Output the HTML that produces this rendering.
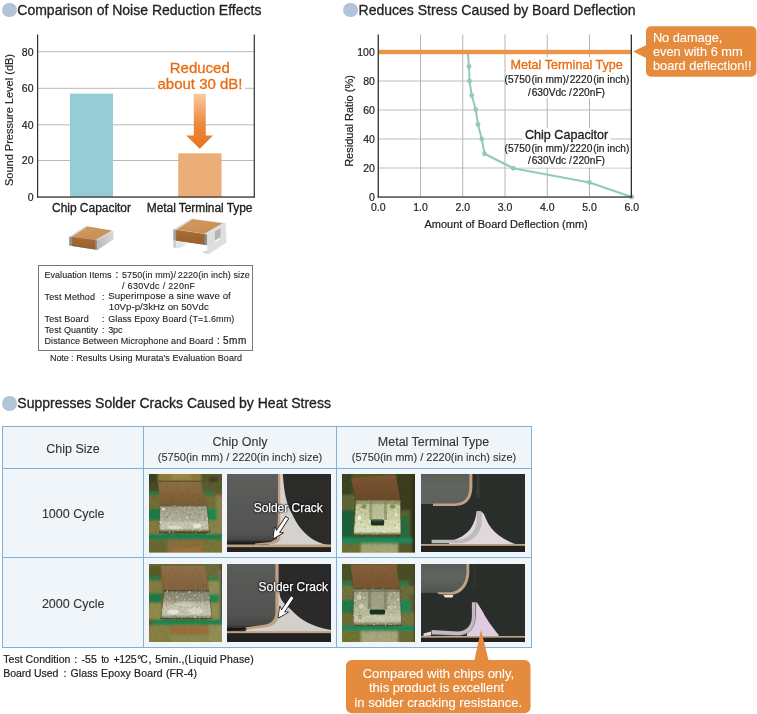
<!DOCTYPE html>
<html><head><meta charset="utf-8"><title>Metal terminal capacitor</title>
<style>
html,body{margin:0;padding:0;background:#fff;}
body{width:757px;height:714px;position:relative;overflow:hidden;font-family:"Liberation Sans", sans-serif;}
.abs{position:absolute;}
.t{position:absolute;white-space:nowrap;font-family:"Liberation Sans", sans-serif;}
.dot{position:absolute;width:14.5px;height:14.5px;border-radius:50%;background:#b1c4d8;}
.wb{background:#fff;}
#stage{position:absolute;left:0;top:0;width:757px;height:714px;will-change:transform;}
</style></head><body>
<div id="stage">
<div class="dot" style="left:2.15px;top:2.85px"></div>
<div class="dot" style="left:343.25px;top:2.85px"></div>
<div class="dot" style="left:2.15px;top:396.45px"></div>
<div class="t" style="left:17.3px;top:2px;font-size:14px;line-height:17px;color:#222;-webkit-text-stroke:0.3px;">Comparison of Noise Reduction Effects</div>
<div class="t" style="left:358.6px;top:2px;font-size:14px;line-height:17px;color:#222;-webkit-text-stroke:0.3px;">Reduces Stress Caused by Board Deflection</div>
<div class="t" style="left:17.3px;top:395px;font-size:14px;line-height:17px;color:#222;-webkit-text-stroke:0.3px;">Suppresses Solder Cracks Caused by Heat Stress</div>
<svg class="abs" style="left:0;top:0" width="380" height="260" viewBox="0 0 380 260"><defs><linearGradient id="ag" x1="0" y1="0" x2="0" y2="1"><stop offset="0" stop-color="#f8c9a2"/><stop offset="0.55" stop-color="#ec8a3e"/><stop offset="1" stop-color="#e8721c"/></linearGradient></defs><rect x="38" y="51.2" width="216" height="1" fill="#b9b9b9"/><rect x="38" y="87.8" width="216" height="1" fill="#b9b9b9"/><rect x="38" y="124.3" width="216" height="1" fill="#b9b9b9"/><rect x="38" y="160.0" width="216" height="1" fill="#b9b9b9"/><rect x="70" y="93.6" width="43" height="103.4" fill="#96ccd6"/><rect x="178.2" y="153.3" width="43.3" height="43.7" fill="#ecae78"/><rect x="155" y="80" width="90" height="12" fill="#fff"/><path d="M193.75 93.75 H205.75 V135.5 H213 L199.75 148.75 L186.25 135.5 H193.75 Z" fill="url(#ag)"/><rect x="37" y="34.5" width="1.2" height="163" fill="#352e2c"/><rect x="253.7" y="34.5" width="1.2" height="163" fill="#352e2c"/><rect x="37" y="196.4" width="217.9" height="1.3" fill="#352e2c"/></svg>
<div class="t" style="left:-366.5px;width:400px;text-align:right;top:46px;font-size:10.5px;line-height:13px;color:#222;-webkit-text-stroke:0.2px;">80</div>
<div class="t" style="left:-366.5px;width:400px;text-align:right;top:82px;font-size:10.5px;line-height:13px;color:#222;-webkit-text-stroke:0.2px;">60</div>
<div class="t" style="left:-366.5px;width:400px;text-align:right;top:119px;font-size:10.5px;line-height:13px;color:#222;-webkit-text-stroke:0.2px;">40</div>
<div class="t" style="left:-366.5px;width:400px;text-align:right;top:154px;font-size:10.5px;line-height:13px;color:#222;-webkit-text-stroke:0.2px;">20</div>
<div class="t" style="left:-366.5px;width:400px;text-align:right;top:191px;font-size:10.5px;line-height:13px;color:#222;-webkit-text-stroke:0.2px;">0</div>
<div class="t" style="left:-91.5px;top:112.75px;width:200px;text-align:center;font-size:11px;line-height:14px;transform:rotate(-90deg);transform-origin:center;color:#222;-webkit-text-stroke:0.2px">Sound Pressure Level (dB)</div>
<div class="t" style="left:-0.25px;width:400px;text-align:center;top:59px;font-size:15px;line-height:18px;color:#e86c10;-webkit-text-stroke:0.3px;">Reduced</div>
<div class="t" style="left:0px;width:400px;text-align:center;top:75px;font-size:15px;line-height:18px;color:#e86c10;-webkit-text-stroke:0.3px;">about 30 dB!</div>
<div class="t" style="left:52px;top:201px;font-size:12px;line-height:14px;color:#222;letter-spacing:-0.029px;-webkit-text-stroke:0.3px;">Chip Capacitor</div>
<div class="t" style="left:146.75px;top:201px;font-size:12px;line-height:14px;color:#222;letter-spacing:-0.067px;-webkit-text-stroke:0.3px;">Metal Terminal Type</div>
<div class="abs" style="left:38.2px;top:265px;width:212.6px;height:83.5px;border:1px solid #777;"></div>
<div class="t" style="left:44.5px;top:270px;font-size:9px;line-height:11px;color:#222;letter-spacing:0.030px;-webkit-text-stroke:0.1px;">Evaluation Items</div>
<div class="t" style="left:115.5px;top:269px;font-size:10px;line-height:12px;color:#222;-webkit-text-stroke:0.2px;">:</div>
<div class="t" style="left:122px;top:270px;font-size:9px;line-height:11px;color:#222;letter-spacing:0.080px;-webkit-text-stroke:0.1px;">5750(in mm)/&thinsp;2220(in inch) size</div>
<div class="t" style="left:122px;top:281px;font-size:9px;line-height:11px;color:#222;letter-spacing:0.297px;-webkit-text-stroke:0.1px;">/ 630Vdc / 220nF</div>
<div class="t" style="left:44.5px;top:292px;font-size:9px;line-height:11px;color:#222;letter-spacing:0.147px;-webkit-text-stroke:0.1px;">Test Method</div>
<div class="t" style="left:102px;top:292px;font-size:9px;line-height:11px;color:#222;-webkit-text-stroke:0.1px;">:</div>
<div class="t" style="left:108.25px;top:290px;font-size:9.7px;line-height:12px;color:#222;letter-spacing:0.032px;-webkit-text-stroke:0.1px;">Superimpose a sine wave of</div>
<div class="t" style="left:108.75px;top:301px;font-size:9.7px;line-height:12px;color:#222;letter-spacing:0.019px;-webkit-text-stroke:0.1px;">10Vp-p/3kHz on 50Vdc</div>
<div class="t" style="left:44.5px;top:314px;font-size:9px;line-height:11px;color:#222;letter-spacing:0.135px;-webkit-text-stroke:0.1px;">Test Board</div>
<div class="t" style="left:102px;top:314px;font-size:9px;line-height:11px;color:#222;-webkit-text-stroke:0.1px;">:</div>
<div class="t" style="left:108.25px;top:314px;font-size:9px;line-height:11px;color:#222;letter-spacing:0.085px;-webkit-text-stroke:0.1px;">Glass Epoxy Board (T=1.6mm)</div>
<div class="t" style="left:44.5px;top:325px;font-size:9px;line-height:11px;color:#222;letter-spacing:0.081px;-webkit-text-stroke:0.1px;">Test Quantity</div>
<div class="t" style="left:102px;top:325px;font-size:9px;line-height:11px;color:#222;-webkit-text-stroke:0.1px;">:</div>
<div class="t" style="left:108.25px;top:325px;font-size:9px;line-height:11px;color:#222;letter-spacing:-0.133px;-webkit-text-stroke:0.1px;">3pc</div>
<div class="t" style="left:44.5px;top:336px;font-size:9px;line-height:11px;color:#222;letter-spacing:0.073px;-webkit-text-stroke:0.1px;">Distance Between Microphone and Board</div>
<div class="t" style="left:217px;top:335px;font-size:10px;line-height:12px;color:#222;-webkit-text-stroke:0.2px;">:</div>
<div class="t" style="left:223px;top:335px;font-size:10px;line-height:12px;color:#222;letter-spacing:0.508px;-webkit-text-stroke:0.2px;">5mm</div>
<div class="t" style="left:50px;top:353px;font-size:9px;line-height:11px;color:#222;letter-spacing:-0.089px;-webkit-text-stroke:0.1px;">Note</div>
<div class="t" style="left:71px;top:353px;font-size:9px;line-height:11px;color:#222;-webkit-text-stroke:0.1px;">:</div>
<div class="t" style="left:76.25px;top:353px;font-size:9px;line-height:11px;color:#222;letter-spacing:0.065px;-webkit-text-stroke:0.1px;">Results Using Murata's Evaluation Board</div>
<svg class="abs" style="left:60px;top:212px" width="180" height="48" viewBox="60 212 180 48"><defs><filter id="icb" x="-5%" y="-5%" width="110%" height="110%"><feGaussianBlur stdDeviation="0.35"/></filter><linearGradient id="icg1" x1="0" y1="0" x2="1" y2="0"><stop offset="0" stop-color="#b8b8b8"/><stop offset="1" stop-color="#dadada"/></linearGradient><linearGradient id="icg2" x1="0" y1="0" x2="0" y2="1"><stop offset="0" stop-color="#a86c36"/><stop offset="1" stop-color="#98602e"/></linearGradient><linearGradient id="icg3" x1="0" y1="0" x2="1" y2="1"><stop offset="0" stop-color="#d29a60"/><stop offset="1" stop-color="#c88c50"/></linearGradient></defs><g filter="url(#icb)"><polygon points="85.9,226.1 113.6,230.9 97.5,240.2 69.2,236.7" fill="#d4d4d4"/><polygon points="87.6,226.4 111.6,230.6 95.4,239.9 71.6,237.0" fill="url(#icg3)"/><polygon points="69.2,236.7 97.5,240.2 97.5,250 69.2,245.5" fill="#8e8e8e"/><polygon points="71.9,237.0 95.2,239.9 95.2,249.6 71.9,245.9" fill="url(#icg2)"/><polygon points="97.5,240.2 113.6,230.9 113.6,239.5 97.5,250" fill="url(#icg1)"/><polygon points="173.3,240.2 187.2,243.4 178.9,248.5 173.3,247.6" fill="#e4e4e4"/><polygon points="173.3,240.2 176,240.8 176,248 173.3,247.6" fill="#cfcfcf"/><polygon points="191.4,218.5 225.6,223.1 206.1,234.2 173.3,229.6" fill="#dcdcdc"/><polygon points="192.6,219.3 222.4,223.3 204.6,233.6 176.4,229.8" fill="url(#icg3)"/><polygon points="173.3,229.6 206.1,234.2 206.1,245.0 173.3,240.2" fill="#a0a0a0"/><polygon points="176.1,230.1 204.8,234.1 204.8,244.8 176.1,240.7" fill="url(#icg2)"/><polygon points="204.8,234.1 207.4,234.4 207.4,245.6 204.8,244.8" fill="#8e8e8e"/><polygon points="207.2,233.6 225.6,223.1 226.5,242.5 208.5,254.2 207.2,253.8" fill="#dedede"/><polygon points="214.9,231.4 220.5,228.2 220.5,239.7 214.9,243" fill="#b4b4b4"/><polygon points="214.9,240.5 220.5,237.2 220.5,239.7 214.9,243" fill="#f4f4f4"/><polygon points="202,252.6 208.5,254.2 208.5,251 206,250.4" fill="#d8d8d8"/></g></svg>
<svg class="abs" style="left:330px;top:0" width="427" height="240" viewBox="330 0 427 240"><rect x="378" y="167.40" width="253" height="1.2" fill="#c9c9c9"/><rect x="378" y="138.40" width="253" height="1.2" fill="#c9c9c9"/><rect x="378" y="109.40" width="253" height="1.2" fill="#c9c9c9"/><rect x="378" y="80.40" width="253" height="1.2" fill="#c9c9c9"/><rect x="420.00" y="34.5" width="1" height="162" fill="#b5b5b5"/><rect x="462.25" y="34.5" width="1" height="162" fill="#b5b5b5"/><rect x="504.50" y="34.5" width="1" height="162" fill="#b5b5b5"/><rect x="546.75" y="34.5" width="1" height="162" fill="#b5b5b5"/><rect x="589.00" y="34.5" width="1" height="162" fill="#b5b5b5"/><rect x="508" y="57.5" width="117" height="14.5" fill="#fff"/><rect x="506" y="72" width="124.39999999999998" height="26" fill="#fff"/><rect x="522.5" y="128" width="88.0" height="14.5" fill="#fff"/><rect x="506" y="142.5" width="124.39999999999998" height="25.0" fill="#fff"/><polyline fill="none" stroke="#92c9bd" stroke-width="2" stroke-linejoin="round" points="467.75,52 469,66.5 469.5,81 471.75,95.5 475.75,109.5 478,124.5 481.75,139 484.5,153.75 513.25,168.25 589.5,182.5 631.75,197"/><circle cx="469" cy="66.5" r="2.4" fill="#92c9bd"/><circle cx="469.5" cy="81" r="2.4" fill="#92c9bd"/><circle cx="471.75" cy="95.5" r="2.4" fill="#92c9bd"/><circle cx="475.75" cy="109.5" r="2.4" fill="#92c9bd"/><circle cx="478" cy="124.5" r="2.4" fill="#92c9bd"/><circle cx="481.75" cy="139" r="2.4" fill="#92c9bd"/><circle cx="484.5" cy="153.75" r="2.4" fill="#92c9bd"/><circle cx="513.25" cy="168.25" r="2.4" fill="#92c9bd"/><circle cx="589.5" cy="182.5" r="2.4" fill="#92c9bd"/><circle cx="631.75" cy="197" r="2.4" fill="#92c9bd"/><rect x="378" y="49.8" width="254" height="4.4" fill="#ea9549"/><rect x="377.6" y="34.5" width="1.3" height="163" fill="#352e2c"/><rect x="630.7" y="34.5" width="1.3" height="163" fill="#352e2c"/><rect x="377.6" y="196.4" width="254.4" height="1.3" fill="#352e2c"/><path d="M651 26.2 H751.5 a5 5 0 0 1 5 5 V71.8 a5 5 0 0 1 -5 5 H651 a5 5 0 0 1 -5 -5 V58 L633.2 51.6 L646 45.3 V31.2 a5 5 0 0 1 5 -5 Z" fill="#e48b3e"/></svg>
<div class="t" style="left:-25.19999999999999px;width:400px;text-align:right;top:191px;font-size:10.5px;line-height:13px;color:#222;-webkit-text-stroke:0.2px;">0</div>
<div class="t" style="left:-25.19999999999999px;width:400px;text-align:right;top:162px;font-size:10.5px;line-height:13px;color:#222;-webkit-text-stroke:0.2px;">20</div>
<div class="t" style="left:-25.19999999999999px;width:400px;text-align:right;top:133px;font-size:10.5px;line-height:13px;color:#222;-webkit-text-stroke:0.2px;">40</div>
<div class="t" style="left:-25.19999999999999px;width:400px;text-align:right;top:104px;font-size:10.5px;line-height:13px;color:#222;-webkit-text-stroke:0.2px;">60</div>
<div class="t" style="left:-25.19999999999999px;width:400px;text-align:right;top:75px;font-size:10.5px;line-height:13px;color:#222;-webkit-text-stroke:0.2px;">80</div>
<div class="t" style="left:-25.19999999999999px;width:400px;text-align:right;top:46px;font-size:10.5px;line-height:13px;color:#222;-webkit-text-stroke:0.2px;">100</div>
<div class="t" style="left:178.25px;width:400px;text-align:center;top:201px;font-size:10.5px;line-height:13px;color:#222;-webkit-text-stroke:0.2px;">0.0</div>
<div class="t" style="left:220.5px;width:400px;text-align:center;top:201px;font-size:10.5px;line-height:13px;color:#222;-webkit-text-stroke:0.2px;">1.0</div>
<div class="t" style="left:262.75px;width:400px;text-align:center;top:201px;font-size:10.5px;line-height:13px;color:#222;-webkit-text-stroke:0.2px;">2.0</div>
<div class="t" style="left:305.0px;width:400px;text-align:center;top:201px;font-size:10.5px;line-height:13px;color:#222;-webkit-text-stroke:0.2px;">3.0</div>
<div class="t" style="left:347.25px;width:400px;text-align:center;top:201px;font-size:10.5px;line-height:13px;color:#222;-webkit-text-stroke:0.2px;">4.0</div>
<div class="t" style="left:389.5px;width:400px;text-align:center;top:201px;font-size:10.5px;line-height:13px;color:#222;-webkit-text-stroke:0.2px;">5.0</div>
<div class="t" style="left:431.75px;width:400px;text-align:center;top:201px;font-size:10.5px;line-height:13px;color:#222;-webkit-text-stroke:0.2px;">6.0</div>
<div class="t" style="left:249px;top:113.8px;width:200px;text-align:center;font-size:11px;line-height:14px;transform:rotate(-90deg);transform-origin:center;color:#222;-webkit-text-stroke:0.2px">Residual Ratio (%)</div>
<div class="t" style="left:424.5px;top:218px;font-size:11px;line-height:13px;color:#222;-webkit-text-stroke:0.2px;">Amount of Board Deflection (mm)</div>
<div class="t" style="left:366.70000000000005px;width:400px;text-align:center;top:58px;font-size:12.6px;line-height:15px;color:#e86c10;-webkit-text-stroke:0.3px;">Metal Terminal Type</div>
<div class="t" style="left:367px;width:400px;text-align:center;top:74px;font-size:10.2px;line-height:12px;color:#222;-webkit-text-stroke:0.2px;">(5750&hairsp;(in mm)/&hairsp;2220&hairsp;(in inch)</div>
<div class="t" style="left:366.5px;width:400px;text-align:center;top:87px;font-size:10.2px;line-height:12px;color:#222;-webkit-text-stroke:0.2px;">/&hairsp;630Vdc /&hairsp;220nF)</div>
<div class="t" style="left:366.6px;width:400px;text-align:center;top:128px;font-size:12.6px;line-height:15px;color:#222;-webkit-text-stroke:0.3px;">Chip Capacitor</div>
<div class="t" style="left:367px;width:400px;text-align:center;top:143px;font-size:10.2px;line-height:12px;color:#222;-webkit-text-stroke:0.2px;">(5750&hairsp;(in mm)/&hairsp;2220&hairsp;(in inch)</div>
<div class="t" style="left:366.5px;width:400px;text-align:center;top:155px;font-size:10.2px;line-height:12px;color:#222;-webkit-text-stroke:0.2px;">/&hairsp;630Vdc /&hairsp;220nF)</div>
<div class="t" style="left:652.9px;top:30px;font-size:12.8px;line-height:15px;color:#fff;letter-spacing:-0.024px;-webkit-text-stroke:0.1px;">No damage,</div>
<div class="t" style="left:652.9px;top:44px;font-size:12.8px;line-height:15px;color:#fff;letter-spacing:0.013px;-webkit-text-stroke:0.1px;">even with 6 mm</div>
<div class="t" style="left:652.9px;top:58px;font-size:12.8px;line-height:15px;color:#fff;letter-spacing:0.024px;-webkit-text-stroke:0.1px;">board deflection!!</div>
<div class="abs" style="left:2px;top:425.7px;width:527.6px;height:220.5px;background:#f0f5fa;border:1px solid #7fb2d6;"></div>
<div class="abs" style="left:3px;top:467.5px;width:528px;height:1.2px;background:#7fb2d6;"></div>
<div class="abs" style="left:3px;top:557.2px;width:528px;height:1.2px;background:#7fb2d6;"></div>
<div class="abs" style="left:142.9px;top:426px;width:1.2px;height:221.2px;background:#7fb2d6;"></div>
<div class="abs" style="left:335.7px;top:426px;width:1.2px;height:221.2px;background:#7fb2d6;"></div>
<div class="t" style="left:-127px;width:400px;text-align:center;top:442px;font-size:12.5px;line-height:15px;color:#333;-webkit-text-stroke:0.1px;">Chip Size</div>
<div class="t" style="left:-126.8px;width:400px;text-align:center;top:507px;font-size:12.5px;line-height:15px;color:#333;-webkit-text-stroke:0.1px;">1000 Cycle</div>
<div class="t" style="left:-126.8px;width:400px;text-align:center;top:597px;font-size:12.5px;line-height:15px;color:#333;-webkit-text-stroke:0.1px;">2000 Cycle</div>
<div class="t" style="left:40px;width:400px;text-align:center;top:435px;font-size:12.5px;line-height:15px;color:#333;-webkit-text-stroke:0.1px;">Chip Only</div>
<div class="t" style="left:40px;width:400px;text-align:center;top:451px;font-size:11px;line-height:13px;color:#333;-webkit-text-stroke:0.1px;">(5750(in mm) / 2220(in inch) size)</div>
<div class="t" style="left:233.5px;width:400px;text-align:center;top:435px;font-size:12.5px;line-height:15px;color:#333;-webkit-text-stroke:0.1px;">Metal Terminal Type</div>
<div class="t" style="left:234px;width:400px;text-align:center;top:451px;font-size:11px;line-height:13px;color:#333;-webkit-text-stroke:0.1px;">(5750(in mm) / 2220(in inch) size)</div>
<svg class="abs" style="left:149px;top:474px" width="73" height="78.5" viewBox="0 0 73 78.5"><defs><filter id="p1b" x="-5%" y="-5%" width="110%" height="110%"><feGaussianBlur stdDeviation="0.6"/></filter><filter id="p1b2" x="-5%" y="-5%" width="110%" height="110%"><feGaussianBlur stdDeviation="0.85"/></filter><filter id="p1sp" x="0" y="0" width="100%" height="100%"><feTurbulence type="fractalNoise" baseFrequency="0.4" numOctaves="3" seed="3" result="t"/><feColorMatrix in="t" type="matrix" values="0 0 0 0 1  0 0 0 0 1  0 0 0 0 0.92  2.0 0 0 0 -1.22" result="w"/><feColorMatrix in="t" type="matrix" values="0 0 0 0 0.18  0 0 0 0 0.18  0 0 0 0 0.08  0 -2.4 0 0 0.95" result="d"/><feMerge result="m"><feMergeNode in="d"/><feMergeNode in="w"/></feMerge><feComposite in="m" in2="SourceAlpha" operator="in" result="mc"/><feGaussianBlur in="mc" stdDeviation="0.55" result="mcb"/><feMerge><feMergeNode in="SourceGraphic"/><feMergeNode in="mcb"/></feMerge></filter><filter id="p1gr" x="0" y="0" width="100%" height="100%"><feTurbulence type="fractalNoise" baseFrequency="0.35" numOctaves="2" seed="10" result="t"/><feColorMatrix in="t" type="matrix" values="0 0 0 0 0  0 0 0 0 0  0 0 0 0 0  0 -1.6 0 0 0.9" result="d"/><feComposite in="d" in2="SourceAlpha" operator="in"/></filter><clipPath id="p1c"><rect x="0" y="0" width="73" height="78.5"/></clipPath></defs><g clip-path="url(#p1c)"><rect x="0" y="0" width="73" height="78.5" fill="#6a642e" /><g filter="url(#p1b2)"><rect x="-3" y="-3" width="13" height="12" fill="#3a4220" /><rect x="9" y="-3" width="44" height="12" fill="#8c7c3c" /><rect x="22" y="-3" width="20" height="9" fill="#9a8a46" /><rect x="52" y="-3" width="26" height="14" fill="#56562c" /><rect x="60" y="3" width="9" height="8" fill="#3c4022" /><rect x="-3" y="8" width="13" height="10" fill="#4a4c22" /><rect x="-3" y="17.7" width="12" height="4.3" fill="#2a7a48" /><rect x="-3" y="22" width="14" height="12.6" fill="#766c34" /><rect x="-3" y="34.6" width="15" height="12" fill="#1a7a48" /><rect x="-3" y="46.6" width="15" height="14" fill="#847a3c" /><rect x="52" y="8" width="26" height="10" fill="#5c5c30" /><rect x="55" y="17" width="9" height="4.5" fill="#2a7a48" /><rect x="56" y="21.5" width="22" height="13" fill="#74703a" /><rect x="67" y="21.5" width="10" height="40" fill="#88824c" /><rect x="57" y="34.6" width="11" height="12" fill="#1f8a50" /><rect x="58" y="46.6" width="20" height="14" fill="#8a844a" /><rect x="-3" y="59.8" width="80" height="6" fill="#1c8050" /><rect x="-3" y="65.8" width="21.5" height="16" fill="#6a6830" /><rect x="18" y="65.8" width="37.7" height="16" fill="#8e6c3a" /><rect x="24" y="74" width="28" height="6" fill="#94783e" /><rect x="55.7" y="65.8" width="22" height="16" fill="#787438" /></g><g filter="url(#p1b)"><rect x="9" y="6.6" width="43" height="1.8" fill="#5a4c28" opacity="0.8"/><linearGradient id="p1g1" x1="0" y1="0" x2="0" y2="1"><stop offset="0" stop-color="#8e6e42"/><stop offset="1" stop-color="#7c5c34"/></linearGradient><polygon points="9.3,8.1 51.4,8.1 58,31 11.1,31" fill="url(#p1g1)"/><linearGradient id="p1g2" x1="0" y1="0" x2="0" y2="1"><stop offset="0" stop-color="#66644c"/><stop offset="0.1" stop-color="#a29f8a"/><stop offset="0.55" stop-color="#b0ad98"/><stop offset="0.65" stop-color="#cac7b2"/><stop offset="0.86" stop-color="#c4c1aa"/><stop offset="0.94" stop-color="#74724e"/><stop offset="1" stop-color="#3e3c20"/></linearGradient><polygon points="11,31 58,31 60.5,58.7 10,58.7" fill="url(#p1g2)" filter="url(#p1sp)" stroke="#3c3a1c" stroke-opacity="0.55" stroke-width="0.9"/><ellipse cx="48" cy="52" rx="4" ry="2.2" fill="#fff" opacity="0.6"/><ellipse cx="26" cy="53.5" rx="7" ry="2" fill="#f4f2e4" opacity="0.5"/><ellipse cx="14.5" cy="35" rx="1.8" ry="1.2" fill="#fff" opacity="0.6"/></g><rect width="73" height="78.5" fill="#000" filter="url(#p1gr)" opacity="0.10"/></g></svg>
<svg class="abs" style="left:227px;top:473.7px" width="104" height="78.5" viewBox="0 0 104 78.5"><defs><filter id="x1b" x="-5%" y="-5%" width="110%" height="110%"><feGaussianBlur stdDeviation="0.6"/></filter><filter id="x1b2" x="-5%" y="-5%" width="110%" height="110%"><feGaussianBlur stdDeviation="0.85"/></filter><filter id="x1sp" x="0" y="0" width="100%" height="100%"><feTurbulence type="fractalNoise" baseFrequency="0.4" numOctaves="3" seed="1" result="t"/><feColorMatrix in="t" type="matrix" values="0 0 0 0 1  0 0 0 0 1  0 0 0 0 0.92  2.0 0 0 0 -1.22" result="w"/><feColorMatrix in="t" type="matrix" values="0 0 0 0 0.18  0 0 0 0 0.18  0 0 0 0 0.08  0 -2.4 0 0 0.95" result="d"/><feMerge result="m"><feMergeNode in="d"/><feMergeNode in="w"/></feMerge><feComposite in="m" in2="SourceAlpha" operator="in" result="mc"/><feGaussianBlur in="mc" stdDeviation="0.55" result="mcb"/><feMerge><feMergeNode in="SourceGraphic"/><feMergeNode in="mcb"/></feMerge></filter><filter id="x1gr" x="0" y="0" width="100%" height="100%"><feTurbulence type="fractalNoise" baseFrequency="0.35" numOctaves="2" seed="8" result="t"/><feColorMatrix in="t" type="matrix" values="0 0 0 0 0  0 0 0 0 0  0 0 0 0 0  0 -1.6 0 0 0.9" result="d"/><feComposite in="d" in2="SourceAlpha" operator="in"/></filter><clipPath id="x1c"><rect x="0" y="0" width="104" height="78.5"/></clipPath></defs><g clip-path="url(#x1c)"><rect width="104" height="78.5" fill="#2b2b2a"/><g filter="url(#x1b)"><linearGradient id="x1g1" x1="0" y1="0" x2="0" y2="1"><stop offset="0" stop-color="#5d5e5c"/><stop offset="0.85" stop-color="#535452"/><stop offset="0.93" stop-color="#444443"/><stop offset="0.97" stop-color="#1c1c1c"/><stop offset="1" stop-color="#161616"/></linearGradient><rect x="-2" y="-2" width="52" height="73" fill="url(#x1g1)"/><path d="M53 -2 L55.6 -2 C56.5 10 57.5 18 59.3 25.4 C61 32 62.8 36 65.1 40 C67.6 45 70 50 73.8 54.5 C77.6 59 81.5 63 86.9 66.1 C91 68.4 95 69.8 98.5 70.5 L106 71.2 L106 72 L40 72 L44 68 L50 65.5 Z" fill="#d5d1cd"/><rect x="50.6" y="-2" width="2.6" height="66.7" fill="#c0a182"/><path d="M28 69.5 L44 68 L50 64.7 L53.5 64.7 L50.5 68.5 L45 70.3 L28 70.8Z" fill="#c0a182"/><rect x="-2" y="70.5" width="108" height="2.9" fill="#c0a182"/><rect x="-2" y="73.4" width="108" height="7" fill="#222221"/></g></g></svg>
<svg class="abs" style="left:342.2px;top:474px" width="73" height="78.5" viewBox="0 0 73 78.5"><defs><filter id="p2b" x="-5%" y="-5%" width="110%" height="110%"><feGaussianBlur stdDeviation="0.6"/></filter><filter id="p2b2" x="-5%" y="-5%" width="110%" height="110%"><feGaussianBlur stdDeviation="0.85"/></filter><filter id="p2sp" x="0" y="0" width="100%" height="100%"><feTurbulence type="fractalNoise" baseFrequency="0.4" numOctaves="3" seed="5" result="t"/><feColorMatrix in="t" type="matrix" values="0 0 0 0 1  0 0 0 0 1  0 0 0 0 0.92  2.0 0 0 0 -1.22" result="w"/><feColorMatrix in="t" type="matrix" values="0 0 0 0 0.18  0 0 0 0 0.18  0 0 0 0 0.08  0 -2.4 0 0 0.95" result="d"/><feMerge result="m"><feMergeNode in="d"/><feMergeNode in="w"/></feMerge><feComposite in="m" in2="SourceAlpha" operator="in" result="mc"/><feGaussianBlur in="mc" stdDeviation="0.55" result="mcb"/><feMerge><feMergeNode in="SourceGraphic"/><feMergeNode in="mcb"/></feMerge></filter><filter id="p2gr" x="0" y="0" width="100%" height="100%"><feTurbulence type="fractalNoise" baseFrequency="0.35" numOctaves="2" seed="12" result="t"/><feColorMatrix in="t" type="matrix" values="0 0 0 0 0  0 0 0 0 0  0 0 0 0 0  0 -1.6 0 0 0.9" result="d"/><feComposite in="d" in2="SourceAlpha" operator="in"/></filter><clipPath id="p2c"><rect x="0" y="0" width="73" height="78.5"/></clipPath></defs><g clip-path="url(#p2c)"><rect x="0" y="0" width="73" height="78.5" fill="#4c5024" /><g filter="url(#p2b2)"><rect x="-3" y="-3" width="80" height="9" fill="#54562a" /><rect x="-3" y="-3" width="13" height="25" fill="#3a4420" /><rect x="54" y="-3" width="24" height="70" fill="#3a3e1e" /><rect x="-3" y="21" width="16" height="16" fill="#5e6634" /><rect x="-3" y="36" width="15" height="27" fill="#1e5e3a" /><rect x="58" y="36" width="10" height="27" fill="#5a5e30" /><rect x="58" y="42" width="9" height="21" fill="#2a6a40" /><rect x="-3" y="63.5" width="80" height="6" fill="#1c8a5a" /><rect x="-3" y="69.5" width="22" height="12" fill="#6c7030" /><rect x="18.7" y="69.5" width="37.5" height="12" fill="#a4a474" /><rect x="56" y="69.5" width="22" height="12" fill="#565a2a" /><rect x="70" y="0" width="8" height="80" fill="#2e3218" /></g><g filter="url(#p2b)"><linearGradient id="p2g1" x1="0" y1="0" x2="0" y2="1"><stop offset="0" stop-color="#7c5632"/><stop offset="1" stop-color="#6c4a2a"/></linearGradient><polygon points="9,3.9 53.6,0.8 58.4,26.1 13.9,26.1" fill="url(#p2g1)"/><linearGradient id="p2g2" x1="0" y1="0" x2="0" y2="1"><stop offset="0" stop-color="#8c9064"/><stop offset="0.08" stop-color="#bcc090"/><stop offset="0.5" stop-color="#ccd0a0"/><stop offset="0.7" stop-color="#dadeb4"/><stop offset="0.9" stop-color="#cccea2"/><stop offset="1" stop-color="#6c7038"/></linearGradient><polygon points="13.9,26.1 58.4,26.1 59,61 11.4,61" fill="url(#p2g2)" filter="url(#p2sp)" stroke="#3c3a1c" stroke-opacity="0.55" stroke-width="0.9"/><rect x="27.5" y="27" width="3" height="19" fill="#8a8c64" opacity="0.7"/><rect x="42" y="27" width="3" height="19" fill="#8a8c64" opacity="0.7"/><rect x="30.5" y="28" width="11.5" height="17" fill="#b8ba94" opacity="0.7"/><rect x="28.9" y="45.4" width="13.3" height="6" fill="#1c3422" rx="1.5"/><rect x="30" y="45.4" width="11" height="2" fill="#6a7048" opacity="0.6"/><ellipse cx="22" cy="32.5" rx="2.6" ry="2.2" fill="#74784e" opacity="0.7"/><ellipse cx="50.5" cy="32.5" rx="2.6" ry="2.2" fill="#74784e" opacity="0.7"/><ellipse cx="17.5" cy="44" rx="1.6" ry="2.6" fill="#fff" opacity="0.75"/><ellipse cx="54" cy="40" rx="1.4" ry="3" fill="#f4f6dc" opacity="0.6"/><rect x="14" y="27" width="44" height="3.2" fill="#7c8058" opacity="0.55"/><rect x="14" y="53.5" width="44" height="5" fill="#eef0d8" opacity="0.45"/></g><rect width="73" height="78.5" fill="#000" filter="url(#p2gr)" opacity="0.10"/></g></svg>
<svg class="abs" style="left:421.2px;top:473.8px" width="104" height="78.5" viewBox="0 0 104 78.5"><defs><filter id="x2b" x="-5%" y="-5%" width="110%" height="110%"><feGaussianBlur stdDeviation="0.6"/></filter><filter id="x2b2" x="-5%" y="-5%" width="110%" height="110%"><feGaussianBlur stdDeviation="0.85"/></filter><filter id="x2sp" x="0" y="0" width="100%" height="100%"><feTurbulence type="fractalNoise" baseFrequency="0.4" numOctaves="3" seed="1" result="t"/><feColorMatrix in="t" type="matrix" values="0 0 0 0 1  0 0 0 0 1  0 0 0 0 0.92  2.0 0 0 0 -1.22" result="w"/><feColorMatrix in="t" type="matrix" values="0 0 0 0 0.18  0 0 0 0 0.18  0 0 0 0 0.08  0 -2.4 0 0 0.95" result="d"/><feMerge result="m"><feMergeNode in="d"/><feMergeNode in="w"/></feMerge><feComposite in="m" in2="SourceAlpha" operator="in" result="mc"/><feGaussianBlur in="mc" stdDeviation="0.55" result="mcb"/><feMerge><feMergeNode in="SourceGraphic"/><feMergeNode in="mcb"/></feMerge></filter><filter id="x2gr" x="0" y="0" width="100%" height="100%"><feTurbulence type="fractalNoise" baseFrequency="0.35" numOctaves="2" seed="8" result="t"/><feColorMatrix in="t" type="matrix" values="0 0 0 0 0  0 0 0 0 0  0 0 0 0 0  0 -1.6 0 0 0.9" result="d"/><feComposite in="d" in2="SourceAlpha" operator="in"/></filter><clipPath id="x2c"><rect x="0" y="0" width="104" height="78.5"/></clipPath></defs><g clip-path="url(#x2c)"><rect width="104" height="78.5" fill="#292e2b"/><g filter="url(#x2b)"><path d="M-2 -2 H51.4 V12 C51.4 24 46.5 31.6 34 32 L12 32 L12 29.4 L-2 29.4 Z" fill="#c0a182"/><linearGradient id="x2g1" x1="0" y1="0" x2="0" y2="1"><stop offset="0" stop-color="#585b56"/><stop offset="0.4" stop-color="#626660"/><stop offset="1" stop-color="#5e625c"/></linearGradient><path d="M-2 -2 H48.4 V13 C48.4 23 44 29.4 33 29.4 L-2 29.4 Z" fill="url(#x2g1)"/><rect x="55.5" y="0" width="3" height="24" fill="#3a4238" opacity="0.8"/><path d="M55.7 37.3 L59.5 37.3 C62 38 63.5 41 65 45 C68 52 72 57 78 61.5 C84 66 90 68.8 97 70.8 L97 71 L28 71 L28 67 C38 65.5 46 60 50 54 C53 49 55 44 55.7 37.3Z" fill="#e2d8dc"/><path d="M10.6 65.7 L36 65.7 C46 65.7 55.7 58 55.7 46 L55.7 37.3 L59 37.3 C60.3 37.3 60.7 38 60.7 39 L60.7 47 C60.7 60 50 69.3 38 69.3 L10.6 69.3Z" fill="#bdbbb9"/><rect x="-2" y="70" width="108" height="1.9" fill="#c0a182"/><rect x="-2" y="71.9" width="108" height="8" fill="#202421"/></g></g></svg>
<svg class="abs" style="left:148.8px;top:563.6px" width="73" height="78.5" viewBox="0 0 73 78.5"><defs><filter id="p3b" x="-5%" y="-5%" width="110%" height="110%"><feGaussianBlur stdDeviation="0.6"/></filter><filter id="p3b2" x="-5%" y="-5%" width="110%" height="110%"><feGaussianBlur stdDeviation="0.85"/></filter><filter id="p3sp" x="0" y="0" width="100%" height="100%"><feTurbulence type="fractalNoise" baseFrequency="0.4" numOctaves="3" seed="11" result="t"/><feColorMatrix in="t" type="matrix" values="0 0 0 0 1  0 0 0 0 1  0 0 0 0 0.92  2.0 0 0 0 -1.22" result="w"/><feColorMatrix in="t" type="matrix" values="0 0 0 0 0.18  0 0 0 0 0.18  0 0 0 0 0.08  0 -2.4 0 0 0.95" result="d"/><feMerge result="m"><feMergeNode in="d"/><feMergeNode in="w"/></feMerge><feComposite in="m" in2="SourceAlpha" operator="in" result="mc"/><feGaussianBlur in="mc" stdDeviation="0.55" result="mcb"/><feMerge><feMergeNode in="SourceGraphic"/><feMergeNode in="mcb"/></feMerge></filter><filter id="p3gr" x="0" y="0" width="100%" height="100%"><feTurbulence type="fractalNoise" baseFrequency="0.35" numOctaves="2" seed="18" result="t"/><feColorMatrix in="t" type="matrix" values="0 0 0 0 0  0 0 0 0 0  0 0 0 0 0  0 -1.6 0 0 0.9" result="d"/><feComposite in="d" in2="SourceAlpha" operator="in"/></filter><clipPath id="p3c"><rect x="0" y="0" width="73" height="78.5"/></clipPath></defs><g clip-path="url(#p3c)"><rect x="0" y="0" width="73" height="78.5" fill="#6a642e" /><g filter="url(#p3b2)"><rect x="-3" y="-3" width="80" height="6" fill="#6a6a30" /><rect x="-3" y="2" width="15" height="11" fill="#5a5a2a" /><rect x="-3" y="12.3" width="13.5" height="4.5" fill="#2a7a48" /><rect x="-3" y="16.8" width="16" height="12.4" fill="#847c42" /><rect x="-3" y="29.2" width="15.5" height="9.6" fill="#1c7a48" /><rect x="-3" y="38.8" width="16" height="16.6" fill="#928a4a" /><rect x="55" y="-3" width="22" height="16" fill="#6c6c3c" /><rect x="59.4" y="12.9" width="10" height="4.3" fill="#2a8450" /><rect x="59" y="17.2" width="18" height="13" fill="#928e56" /><rect x="60" y="30.2" width="10.5" height="8.6" fill="#1f8a50" /><rect x="60" y="38.8" width="18" height="16.6" fill="#928e52" /><rect x="70" y="6" width="8" height="60" fill="#80805a" /><rect x="71.8" y="0" width="3" height="80" fill="#3a3a20" /><rect x="2.7" y="55.4" width="76" height="5.6" fill="#1e8450" /><rect x="-3" y="55.4" width="6" height="5.6" fill="#5a5a2a" /><rect x="-3" y="61" width="25" height="20" fill="#868042" /><rect x="21.8" y="61" width="37.6" height="10" fill="#96703c" /><rect x="21.8" y="70.8" width="37.6" height="10" fill="#8a8a50" /><rect x="59.4" y="61" width="20" height="20" fill="#928e52" /></g><g filter="url(#p3b)"><linearGradient id="p3g1" x1="0" y1="0" x2="0" y2="1"><stop offset="0" stop-color="#907048"/><stop offset="1" stop-color="#82623e"/></linearGradient><polygon points="11.9,1.8 55.7,1.8 60,26.5 15,26.5" fill="url(#p3g1)"/><linearGradient id="p3g2" x1="0" y1="0" x2="0" y2="1"><stop offset="0" stop-color="#5e5c48"/><stop offset="0.1" stop-color="#8a8872"/><stop offset="0.35" stop-color="#96947e"/><stop offset="0.5" stop-color="#c2c0aa"/><stop offset="0.85" stop-color="#c8c6b0"/><stop offset="0.95" stop-color="#8a8868"/><stop offset="1" stop-color="#4a4828"/></linearGradient><polygon points="15,26.5 60,26.5 63,54.8 11.9,54.8" fill="url(#p3g2)" filter="url(#p3sp)" stroke="#3c3a1c" stroke-opacity="0.55" stroke-width="0.9"/><ellipse cx="24" cy="48" rx="6" ry="2.6" fill="#fff" opacity="0.55"/><ellipse cx="46" cy="47" rx="8" ry="3" fill="#f4f2e4" opacity="0.45"/><ellipse cx="36" cy="40" rx="10" ry="2.5" fill="#e8e6d4" opacity="0.35"/></g><rect width="73" height="78.5" fill="#000" filter="url(#p3gr)" opacity="0.10"/></g></svg>
<svg class="abs" style="left:227px;top:563.6px" width="104" height="78.5" viewBox="0 0 104 78.5"><defs><filter id="x3b" x="-5%" y="-5%" width="110%" height="110%"><feGaussianBlur stdDeviation="0.6"/></filter><filter id="x3b2" x="-5%" y="-5%" width="110%" height="110%"><feGaussianBlur stdDeviation="0.85"/></filter><filter id="x3sp" x="0" y="0" width="100%" height="100%"><feTurbulence type="fractalNoise" baseFrequency="0.4" numOctaves="3" seed="1" result="t"/><feColorMatrix in="t" type="matrix" values="0 0 0 0 1  0 0 0 0 1  0 0 0 0 0.92  2.0 0 0 0 -1.22" result="w"/><feColorMatrix in="t" type="matrix" values="0 0 0 0 0.18  0 0 0 0 0.18  0 0 0 0 0.08  0 -2.4 0 0 0.95" result="d"/><feMerge result="m"><feMergeNode in="d"/><feMergeNode in="w"/></feMerge><feComposite in="m" in2="SourceAlpha" operator="in" result="mc"/><feGaussianBlur in="mc" stdDeviation="0.55" result="mcb"/><feMerge><feMergeNode in="SourceGraphic"/><feMergeNode in="mcb"/></feMerge></filter><filter id="x3gr" x="0" y="0" width="100%" height="100%"><feTurbulence type="fractalNoise" baseFrequency="0.35" numOctaves="2" seed="8" result="t"/><feColorMatrix in="t" type="matrix" values="0 0 0 0 0  0 0 0 0 0  0 0 0 0 0  0 -1.6 0 0 0.9" result="d"/><feComposite in="d" in2="SourceAlpha" operator="in"/></filter><clipPath id="x3c"><rect x="0" y="0" width="104" height="78.5"/></clipPath></defs><g clip-path="url(#x3c)"><rect width="104" height="78.5" fill="#2b2b2a"/><g filter="url(#x3b)"><linearGradient id="x3g1" x1="0" y1="0" x2="0" y2="1"><stop offset="0" stop-color="#5b5c5a"/><stop offset="0.8" stop-color="#525351"/><stop offset="0.95" stop-color="#464645"/><stop offset="1" stop-color="#2c2c2c"/></linearGradient><path d="M40 28 L106 28 L106 68 L18 68 L20 64 L40 62 Z" fill="#d3cfcb"/><path d="M52.2 -2 L52.6 30 C53.2 35.5 57 40 62.2 43.9 C66 47.5 70 52 75.3 55.5 C81 59.3 88 62.3 95.6 64.2 L106 66.4 L106 -2 Z" fill="#2b2b2a"/><path d="M-2 -2 H51.6 V50 C51.6 58 47 62.3 39 63.3 L18 65.8 L-2 66.3 Z" fill="#c0a182"/><path d="M-2 -2 H48.4 V48 C48.4 56 44 60 37 60.8 L18 63.5 L-2 64 Z" fill="url(#x3g1)"/><path d="M-2 64 L18 63.3 L20 65.5 L-2 67.2Z" fill="#141414"/><rect x="-2" y="67.2" width="108" height="2.2" fill="#c0a182"/><rect x="-2" y="69.4" width="108" height="11" fill="#222221"/></g></g></svg>
<svg class="abs" style="left:342.2px;top:563.6px" width="73" height="78.5" viewBox="0 0 73 78.5"><defs><filter id="p4b" x="-5%" y="-5%" width="110%" height="110%"><feGaussianBlur stdDeviation="0.6"/></filter><filter id="p4b2" x="-5%" y="-5%" width="110%" height="110%"><feGaussianBlur stdDeviation="0.85"/></filter><filter id="p4sp" x="0" y="0" width="100%" height="100%"><feTurbulence type="fractalNoise" baseFrequency="0.4" numOctaves="3" seed="17" result="t"/><feColorMatrix in="t" type="matrix" values="0 0 0 0 1  0 0 0 0 1  0 0 0 0 0.92  2.0 0 0 0 -1.22" result="w"/><feColorMatrix in="t" type="matrix" values="0 0 0 0 0.18  0 0 0 0 0.18  0 0 0 0 0.08  0 -2.4 0 0 0.95" result="d"/><feMerge result="m"><feMergeNode in="d"/><feMergeNode in="w"/></feMerge><feComposite in="m" in2="SourceAlpha" operator="in" result="mc"/><feGaussianBlur in="mc" stdDeviation="0.55" result="mcb"/><feMerge><feMergeNode in="SourceGraphic"/><feMergeNode in="mcb"/></feMerge></filter><filter id="p4gr" x="0" y="0" width="100%" height="100%"><feTurbulence type="fractalNoise" baseFrequency="0.35" numOctaves="2" seed="24" result="t"/><feColorMatrix in="t" type="matrix" values="0 0 0 0 0  0 0 0 0 0  0 0 0 0 0  0 -1.6 0 0 0.9" result="d"/><feComposite in="d" in2="SourceAlpha" operator="in"/></filter><clipPath id="p4c"><rect x="0" y="0" width="73" height="78.5"/></clipPath></defs><g clip-path="url(#p4c)"><rect x="0" y="0" width="73" height="78.5" fill="#4c5024" /><g filter="url(#p4b2)"><rect x="-3" y="-3" width="80" height="6" fill="#5a5c2c" /><rect x="56" y="-3" width="22" height="22" fill="#4a4e28" /><rect x="-3" y="-3" width="13" height="21" fill="#4a5228" /><rect x="-3" y="17" width="13" height="5" fill="#2a7a4a" /><rect x="57" y="17" width="10" height="5" fill="#2a7a4a" /><rect x="-3" y="22" width="15" height="14" fill="#70743c" /><rect x="57" y="22" width="20" height="14" fill="#6a6c3a" /><rect x="-3" y="36.3" width="15" height="12.3" fill="#1f7a4c" /><rect x="57" y="36.3" width="12" height="12.3" fill="#1f8a54" /><rect x="68" y="30" width="10" height="35" fill="#5a5e30" /><rect x="-3" y="48.6" width="15" height="13" fill="#6c6c34" /><rect x="57" y="48.6" width="20" height="13" fill="#76763c" /><rect x="-3" y="61.6" width="80" height="5.5" fill="#1c8a5a" /><rect x="-3" y="67.1" width="23" height="14" fill="#72742f" /><rect x="19" y="67.1" width="37" height="14" fill="#a8a67a" /><rect x="56" y="67.1" width="22" height="14" fill="#6a6c30" /><rect x="72" y="0" width="5" height="80" fill="#3a3c20" /></g><g filter="url(#p4b)"><linearGradient id="p4g1" x1="0" y1="0" x2="0" y2="1"><stop offset="0" stop-color="#86603a"/><stop offset="1" stop-color="#785432"/></linearGradient><polygon points="8.6,0.6 54.2,0.6 57.9,24.6 11.7,24.6" fill="url(#p4g1)"/><linearGradient id="p4g2" x1="0" y1="0" x2="0" y2="1"><stop offset="0" stop-color="#74765a"/><stop offset="0.08" stop-color="#a2a486"/><stop offset="0.5" stop-color="#b0b294"/><stop offset="0.75" stop-color="#c0c2a4"/><stop offset="0.9" stop-color="#b4b494"/><stop offset="1" stop-color="#64663a"/></linearGradient><polygon points="11.7,24.6 57.9,24.6 59.7,61.6 11.1,61.6" fill="url(#p4g2)" filter="url(#p4sp)" stroke="#3c3a1c" stroke-opacity="0.55" stroke-width="0.9"/><rect x="26" y="26.5" width="3.5" height="19" fill="#7e8060" opacity="0.75"/><rect x="41.5" y="26.5" width="3.5" height="19" fill="#7e8060" opacity="0.75"/><rect x="29.5" y="27" width="12" height="18" fill="#9c9c80" opacity="0.7"/><rect x="27.7" y="45.6" width="15.4" height="5" fill="#1c3020" rx="1.5"/><ellipse cx="19.5" cy="42" rx="2.6" ry="2.6" fill="#d8dac0" opacity="0.8"/><ellipse cx="49" cy="43" rx="2.2" ry="2.6" fill="#c8cab0" opacity="0.7"/><ellipse cx="17" cy="33" rx="2.2" ry="2.8" fill="#dcdcc8" opacity="0.7"/><ellipse cx="18" cy="53" rx="2.4" ry="2" fill="#5a5c3c" opacity="0.6"/><rect x="12" y="25" width="46" height="3" fill="#6c6e50" opacity="0.55"/><rect x="13" y="52" width="46" height="6" fill="#d4d4bc" opacity="0.45"/></g><rect width="73" height="78.5" fill="#000" filter="url(#p4gr)" opacity="0.10"/></g></svg>
<svg class="abs" style="left:421.2px;top:563.8px" width="104" height="78.5" viewBox="0 0 104 78.5"><defs><filter id="x4b" x="-5%" y="-5%" width="110%" height="110%"><feGaussianBlur stdDeviation="0.6"/></filter><filter id="x4b2" x="-5%" y="-5%" width="110%" height="110%"><feGaussianBlur stdDeviation="0.85"/></filter><filter id="x4sp" x="0" y="0" width="100%" height="100%"><feTurbulence type="fractalNoise" baseFrequency="0.4" numOctaves="3" seed="1" result="t"/><feColorMatrix in="t" type="matrix" values="0 0 0 0 1  0 0 0 0 1  0 0 0 0 0.92  2.0 0 0 0 -1.22" result="w"/><feColorMatrix in="t" type="matrix" values="0 0 0 0 0.18  0 0 0 0 0.18  0 0 0 0 0.08  0 -2.4 0 0 0.95" result="d"/><feMerge result="m"><feMergeNode in="d"/><feMergeNode in="w"/></feMerge><feComposite in="m" in2="SourceAlpha" operator="in" result="mc"/><feGaussianBlur in="mc" stdDeviation="0.55" result="mcb"/><feMerge><feMergeNode in="SourceGraphic"/><feMergeNode in="mcb"/></feMerge></filter><filter id="x4gr" x="0" y="0" width="100%" height="100%"><feTurbulence type="fractalNoise" baseFrequency="0.35" numOctaves="2" seed="8" result="t"/><feColorMatrix in="t" type="matrix" values="0 0 0 0 0  0 0 0 0 0  0 0 0 0 0  0 -1.6 0 0 0.9" result="d"/><feComposite in="d" in2="SourceAlpha" operator="in"/></filter><clipPath id="x4c"><rect x="0" y="0" width="104" height="78.5"/></clipPath></defs><g clip-path="url(#x4c)"><rect width="104" height="78.5" fill="#292e2b"/><g filter="url(#x4b)"><path d="M-2 -2 H48.3 V8 C48.3 19.5 41.5 30.5 30 30.8 L18 30.2 L16 28.3 L-2 28.3 Z" fill="#c0a182"/><linearGradient id="x4g1" x1="0" y1="0" x2="0" y2="1"><stop offset="0" stop-color="#585b56"/><stop offset="0.5" stop-color="#60645e"/><stop offset="1" stop-color="#525550"/></linearGradient><path d="M-2 -2 H45.5 V8 C45.5 18 39 28.3 28 28.3 L-2 28.3 Z" fill="url(#x4g1)"/><path d="M22.2 31 L32.4 31 L31.5 33.4 L24 33.4Z" fill="#e8e4e0"/><rect x="52" y="0" width="3" height="24" fill="#2e352e" opacity="0.8"/><path d="M54.5 38.5 L56 38.5 C59 43 62 48 64 52 C67 57 70 61 73 65 C75 68 76.5 69.5 77.5 70.5 L77.5 72 L46 72 L46 68 C50 64 53 58 54.5 50Z" fill="#e0cce0"/><path d="M2.5 69.5 L10 67.5 L10 71.5 L2.5 72Z" fill="#e4d8e0"/><path d="M10.6 66.1 L36 67.5 C45 67.5 50.9 62 50.9 52 L50.9 38.2 L54.5 38.2 L54.5 52 C54.5 64 47 71.5 37 71.5 L10.6 70.5Z" fill="#c0bcc0"/><path d="M12 70.6 L37 71.6 C47.5 71.6 54.6 64 54.6 52 L54.6 39" fill="none" stroke="#5a5058" stroke-width="0.5"/><rect x="-2" y="72" width="108" height="1.8" fill="#c0a182"/><rect x="-2" y="73.8" width="108" height="8" fill="#202421"/></g></g></svg>
<svg class="abs" style="left:220px;top:470px" width="120" height="180" viewBox="220 470 120 180"><path d="M285.75 516.88 L276.41 531.12 L274.86 527.47 L273.50 538.30 L282.89 532.73 L278.92 532.77 L288.25 518.52Z" fill="#fff" stroke="#151515" stroke-width="1.5" stroke-linejoin="round" paint-order="stroke"/><path d="M291.06 596.36 L281.52 610.46 L280.02 606.79 L278.50 617.60 L287.97 612.17 L284.00 612.15 L293.54 598.04Z" fill="#fff" stroke="#151515" stroke-width="1.5" stroke-linejoin="round" paint-order="stroke"/></svg>
<div class="t" style="left:253.7px;top:501px;font-size:12px;line-height:14px;color:#fff;letter-spacing:-0.024px;text-shadow:0 0 1.5px #000,0 0 1.5px #000,0 0 2px #111,0 0 2.5px #222;-webkit-text-stroke:0.25px #fff;">Solder Crack</div>
<div class="t" style="left:258.6px;top:580px;font-size:12px;line-height:14px;color:#fff;letter-spacing:-0.005px;text-shadow:0 0 1.5px #000,0 0 1.5px #000,0 0 2px #111,0 0 2.5px #222;-webkit-text-stroke:0.25px #fff;">Solder Crack</div>
<div class="t" style="left:3.2px;top:653px;font-size:10.5px;line-height:13px;color:#222;letter-spacing:0.050px;-webkit-text-stroke:0.2px;">Test Condition</div>
<div class="t" style="left:74.3px;top:653px;font-size:11px;line-height:13px;color:#222;-webkit-text-stroke:0.2px;">:</div>
<div class="t" style="left:81.6px;top:653px;font-size:10.5px;line-height:13px;color:#222;-webkit-text-stroke:0.2px;">-55</div>
<div class="t" style="left:101.2px;top:654px;font-size:10px;line-height:12px;color:#222;letter-spacing:-0.444px;-webkit-text-stroke:0.2px;">to</div>
<div class="t" style="left:113.4px;top:653px;font-size:10.5px;line-height:13px;color:#222;letter-spacing:-0.185px;-webkit-text-stroke:0.2px;">+125</div>
<div class="t" style="left:137.2px;top:654px;font-size:10px;line-height:12px;color:#222;letter-spacing:-0.634px;-webkit-text-stroke:0.2px;">°C</div>
<div class="t" style="left:148.6px;top:653px;font-size:10.5px;line-height:13px;color:#222;-webkit-text-stroke:0.2px;">,</div>
<div class="t" style="left:155.3px;top:653px;font-size:10.5px;line-height:13px;color:#222;letter-spacing:0.110px;-webkit-text-stroke:0.2px;">5min.,(Liquid Phase)</div>
<div class="t" style="left:3.2px;top:667px;font-size:10.5px;line-height:13px;color:#222;letter-spacing:-0.028px;-webkit-text-stroke:0.2px;">Board Used</div>
<div class="t" style="left:63.6px;top:667px;font-size:11px;line-height:13px;color:#222;-webkit-text-stroke:0.2px;">:</div>
<div class="t" style="left:70.4px;top:667px;font-size:10.5px;line-height:13px;color:#222;letter-spacing:0.151px;-webkit-text-stroke:0.2px;">Glass Epoxy Board (FR-4)</div>
<svg class="abs" style="left:340px;top:620px" width="200" height="94" viewBox="340 620 200 94"><path d="M352 660 H474.4 L481.1 629.8 L488.4 660 H524.5 a6 6 0 0 1 6 6 V707.2 a6 6 0 0 1 -6 6 H352 a6 6 0 0 1 -6 -6 V666 a6 6 0 0 1 6 -6 Z" fill="#e48b3e"/></svg>
<div class="t" style="left:238.39999999999998px;width:400px;text-align:center;top:666px;font-size:13px;line-height:16px;color:#fff;-webkit-text-stroke:0.1px;">Compared with chips only,</div>
<div class="t" style="left:236.5px;width:400px;text-align:center;top:680px;font-size:13px;line-height:16px;color:#fff;-webkit-text-stroke:0.1px;">this product is excellent</div>
<div class="t" style="left:238.3px;width:400px;text-align:center;top:695px;font-size:13px;line-height:16px;color:#fff;-webkit-text-stroke:0.1px;">in solder cracking resistance.</div>
</div>
</body></html>
